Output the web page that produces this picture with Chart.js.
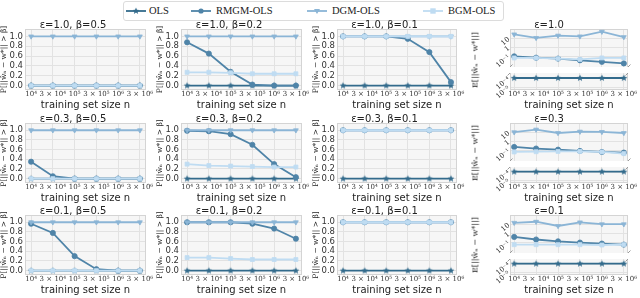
<!DOCTYPE html>
<html>
<head>
<meta charset="utf-8">
<script src="https://cdn.jsdelivr.net/npm/chart.js@4.4.1/dist/chart.umd.min.js"></script>
<style>
  body { margin:0; width:640px; height:298px; background:#fff; position:relative; overflow:hidden; }
  .panel { position:absolute; }
  #legend { position:absolute; left:123px; top:1px; width:379px; height:18px; border:1px solid #dcdcdc; border-radius:3px; background:#fff; }
  .lg { position:absolute; top:0; height:18px; line-height:18px; font-family:'Liberation Serif'; font-size:10.5px; color:#222; white-space:nowrap; }
  .lgc { position:absolute; top:4px; }
  .ylab4 { position:absolute; font-family:'DejaVu Serif'; font-size:8px; color:#222; transform:translate(-50%,-50%) rotate(-90deg); white-space:nowrap; }
</style>
</head>
<body>
<div id="legend"></div>
<script>
// training set sizes (x ticks)
const nLabels = ['10⁴', '3 × 10⁴', '10⁵', '3 × 10⁵', '10⁶', '3 × 10⁶'];
const seriesNames = ['OLS', 'RMGM-OLS', 'DGM-OLS', 'BGM-OLS'];
const epsLabels = ['1.0', '0.3', '0.1'];
const betaLabels = ['0.5', '0.2', '0.1'];

// P[||w_n - w*|| > beta], one array per beta (0.5, 0.2, 0.1)
const olsE10  = [[0,0,0,0,0,0], [0,0,0,0,0,0], [0,0,0,0,0,0]];
const rmgmE10 = [[0,0,0,0,0,0], [0.88,0.65,0.28,0.02,0,0], [1,1,1,0.95,0.68,0.07]];
const dgmE10  = [[1,1,1,1,1,1], [1,1,1,1,1,1], [1,1,1,1,1,1]];
const bgmE10  = [[0,0,0,0,0,0], [0.27,0.27,0.26,0.24,0.24,0.24], [1,1,1,1,1,1]];

const olsE03  = [[0,0,0,0,0,0], [0,0,0,0,0,0], [0,0,0,0,0,0]];
const rmgmE03 = [[0.35,0.05,0,0,0,0], [0.99,0.98,0.92,0.7,0.3,0.03], [1,1,1,1,1,1]];
const dgmE03  = [[1,1,1,1,1,1], [1,1,1,1,1,1], [1,1,1,1,1,1]];
const bgmE03  = [[0,0,0,0,0,0], [0.3,0.27,0.26,0.25,0.24,0.24], [1,1,1,1,1,1]];

const olsE01  = [[0,0,0,0,0,0], [0,0,0,0,0,0], [0,0,0,0,0,0]];
const rmgmE01 = [[0.97,0.78,0.3,0.03,0,0], [1,1,1,0.97,0.87,0.66], [1,1,1,1,1,1]];
const dgmE01  = [[1,1,1,1,1,1], [1,1,1,1,1,1], [1,1,1,1,1,1]];
const bgmE01  = [[0,0,0,0,0,0], [0.27,0.27,0.25,0.23,0.23,0.23], [1,1,1,1,1,1]];

// E[||w_n - w*||], one array per eps (1.0, 0.3, 0.1)
const olsErr  = [[1.1e-4,1.1e-4,1.1e-4,1.1e-4,1.1e-4,1.1e-4], [1.1e-4,1.1e-4,1.1e-4,1.1e-4,1.1e-4,1.1e-4], [1.1e-4,1.1e-4,1.1e-4,1.1e-4,1.1e-4,1.1e-4]];
const rmgmErr = [[0.1,0.071,0.056,0.036,0.024,0.016], [0.24,0.16,0.12,0.085,0.066,0.056], [0.41,0.21,0.13,0.095,0.073,0.056]];
const dgmErr  = [[30,12,22,18,60,15], [11,22,9,13,12,9], [16,21,7,18,11,11]];
const bgmErr  = [[0.066,0.066,0.055,0.045,0.066,0.066], [0.066,0.07,0.075,0.075,0.066,0.043], [0.055,0.055,0.055,0.055,0.05,0.055]];

const probRows = [
  [olsE10, rmgmE10, dgmE10, bgmE10],
  [olsE03, rmgmE03, dgmE03, bgmE03],
  [olsE01, rmgmE01, dgmE01, bgmE01]
];

function starImg(color, r) {
  const c = document.createElement('canvas');
  const s = Math.ceil(r * 2 + 2);
  c.width = c.height = s;
  const g = c.getContext('2d');
  g.fillStyle = color;
  g.beginPath();
  for (let i = 0; i < 10; i++) {
    const a = -Math.PI / 2 + i * Math.PI / 5;
    const rr = i % 2 ? r * 0.45 : r;
    g.lineTo(s / 2 + rr * Math.cos(a), s / 2 + rr * Math.sin(a));
  }
  g.closePath();
  g.fill();
  return c;
}

const colors = ['#336b8c', '#4f84a8', '#8bb5d6', '#bfdcf2'];
const styles = [
  { color: colors[0], point: starImg(colors[0], 3.6), r: 3, rot: 0, order: 4 },
  { color: colors[1], point: 'circle', r: 2.6, rot: 0, order: 3 },
  { color: colors[2], point: 'triangle', r: 2.8, rot: 180, order: 2 },
  { color: colors[3], point: 'rect', r: 2.8, rot: 0, order: 1 }
];

const panelBg = '#f6f6f6';
const gridColor = '#e2e2e2';
const spineColor = '#d4d4d4';

// background + frame around the plot area
const frame = {
  id: 'frame',
  beforeDraw(chart, args, opts) {
    const a = chart.chartArea, ctx = chart.ctx;
    ctx.save();
    ctx.fillStyle = panelBg;
    ctx.fillRect(a.left, a.top, a.right - a.left, a.bottom - a.top);
    ctx.restore();
  },
  beforeDatasetsDraw(chart, args, opts) {
    const a = chart.chartArea, ctx = chart.ctx;
    const sides = opts.sides || 'tblr';
    ctx.save();
    ctx.strokeStyle = spineColor;
    ctx.lineWidth = 1;
    ctx.beginPath();
    if (sides.includes('t')) { ctx.moveTo(a.left, a.top + 0.5); ctx.lineTo(a.right, a.top + 0.5); }
    if (sides.includes('b')) { ctx.moveTo(a.left, a.bottom - 0.5); ctx.lineTo(a.right, a.bottom - 0.5); }
    if (sides.includes('l')) { ctx.moveTo(a.left + 0.5, a.top); ctx.lineTo(a.left + 0.5, a.bottom); }
    if (sides.includes('r')) { ctx.moveTo(a.right - 0.5, a.top); ctx.lineTo(a.right - 0.5, a.bottom); }
    ctx.stroke();
    // diagonal break marks of the split axis
    if (opts.breakAt) {
      const y = opts.breakAt === 'bottom' ? a.bottom : a.top;
      ctx.strokeStyle = '#9a9a9a';
      ctx.beginPath();
      [a.left, a.right].forEach(x => { ctx.moveTo(x - 2.5, y + 2.5); ctx.lineTo(x + 2.5, y - 2.5); });
      ctx.stroke();
    }
    ctx.restore();
  }
};
Chart.register(frame);

function makeCanvas(left, top, w, h) {
  const div = document.createElement('div');
  div.className = 'panel';
  div.style.left = left + 'px';
  div.style.top = top + 'px';
  div.style.width = w + 'px';
  div.style.height = h + 'px';
  const cv = document.createElement('canvas');
  cv.width = w; cv.height = h;
  cv.style.width = w + 'px'; cv.style.height = h + 'px';
  div.appendChild(cv);
  document.body.appendChild(div);
  return cv;
}

function makeDataset(k, vals) {
  const st = styles[k];
  return {
    label: seriesNames[k],
    data: vals.map((v, i) => ({ x: i, y: v })),
    borderColor: st.color,
    backgroundColor: st.color,
    borderWidth: 1.8,
    pointStyle: st.point,
    pointRadius: st.r,
    pointRotation: st.rot,
    pointBorderColor: st.color,
    pointBackgroundColor: st.color,
    pointBorderWidth: 0.8,
    order: st.order
  };
}

const colX = [[25, 146], [181, 302], [337, 457]];
const rowY = [[29, 90], [123, 183], [215, 275]];
const col4X = [510, 628];
const yAxisW = 25, titleH = 9, xAxisH = 21, padR = 14;

// autoPadding off, otherwise point overflow eats into the small split panels
const layoutOpts = { autoPadding: false, padding: { left: 0, right: padR, top: 0, bottom: 0 } };

function xScale(min, max, showLabels) {
  return {
    type: 'linear', min: min, max: max,
    afterBuildTicks: s => { s.ticks = nLabels.map((_, i) => ({ value: i })); },
    ticks: {
      display: showLabels, callback: v => nLabels[v], autoSkip: false, maxRotation: 0, minRotation: 0,
      padding: 0, font: { family: 'DejaVu Serif', size: 7 }, color: '#333'
    },
    grid: { color: gridColor, drawTicks: false },
    border: { display: false },
    title: { display: showLabels, text: 'training set size n', font: { family: 'DejaVu Sans', size: 10 }, color: '#222', padding: 0 },
    afterFit: s => { s.height = showLabels ? xAxisH : 0; }
  };
}

function titleOpts(text) {
  return {
    display: true, text: text, color: '#222',
    font: { family: 'DejaVu Sans', size: 10, lineHeight: 1, weight: 'normal' },
    padding: { top: 0, bottom: -1 }
  };
}

// probability panels
for (let r = 0; r < 3; r++) {
  for (let c = 0; c < 3; c++) {
    const [x0, x1] = colX[c], [y0, y1] = rowY[r];
    const left = x0 - yAxisW, top = y0 - titleH;
    const cv = makeCanvas(left, top, x1 - left + padR, y1 + xAxisH - top);
    const datasets = probRows[r].map((series, k) => makeDataset(k, series[c]));
    new Chart(cv, {
      type: 'line',
      data: { datasets: datasets },
      options: {
        responsive: false, animation: false, events: [],
        layout: layoutOpts,
        plugins: {
          legend: { display: false }, tooltip: { enabled: false },
          title: titleOpts('ε=' + epsLabels[r] + ', β=' + betaLabels[c]),
          frame: {}
        },
        scales: {
          x: xScale(-0.28, 5.28, true),
          y: {
            min: -0.09, max: 1.15,
            afterBuildTicks: s => { s.ticks = [0, 0.2, 0.4, 0.6, 0.8, 1.0].map(v => ({ value: v })); },
            ticks: { callback: v => v.toFixed(1), autoSkip: false, padding: 2, font: { family: 'DejaVu Sans', size: 8.5 }, color: '#333' },
            grid: { color: gridColor, drawTicks: false },
            border: { display: false },
            title: { display: true, text: 'P[||ŵₙ − w*|| > β]', font: { family: 'DejaVu Serif', size: 7.5 }, color: '#222', padding: 0 },
            afterFit: s => { s.width = yAxisW; s.paddingTop = 0; s.paddingBottom = 0; }
          }
        }
      }
    });
  }
}

// expected error panels (split log axis)
const errTicksTop = [0.1, 1, 10];
const errTicksBottom = [1e-5, 1e-4];
const errTickText = ['10⁻⁵', '10⁻⁴', '10⁻³', '10⁻²', '10⁻¹', '1', '10'];
const errSeries = [olsErr, rmgmErr, dgmErr, bgmErr];
const y4AxisW = 40, topPartH = 38, gapH = 6;

function logY(min, max, ticks) {
  return {
    type: 'logarithmic', min: min, max: max,
    afterBuildTicks: s => { s.ticks = ticks.map(v => ({ value: v })); },
    ticks: {
      callback: v => errTickText[Math.round(Math.log10(v)) + 5],
      autoSkip: false, padding: 1, minRotation: 40, maxRotation: 40,
      font: { family: 'DejaVu Serif', size: 7 }, color: '#222'
    },
    grid: { color: gridColor, drawTicks: false },
    border: { display: false },
    // keep the rotated labels from shrinking the small plot areas
    afterFit: s => { s.width = y4AxisW; s.paddingTop = 0; s.paddingBottom = 0; }
  };
}

for (let r = 0; r < 3; r++) {
  const [y0, y1] = rowY[r];
  const [x0, x1] = col4X;
  const left = x0 - y4AxisW;
  const w = x1 - left + padR;

  // upper part: the mechanisms
  const cvTop = makeCanvas(left, y0 - titleH, w, titleH + topPartH);
  new Chart(cvTop, {
    type: 'line',
    data: { datasets: [1, 2, 3].map(k => makeDataset(k, errSeries[k][r])) },
    options: {
      responsive: false, animation: false, events: [],
      layout: layoutOpts,
      plugins: {
        legend: { display: false }, tooltip: { enabled: false },
        title: titleOpts('ε=' + epsLabels[r]),
        frame: { sides: 'tlr', breakAt: 'bottom' }
      },
      scales: { x: xScale(-0.19, 5.19, false), y: logY(Math.pow(10, -2.2), Math.pow(10, 2.08), errTicksTop) }
    }
  });

  // lower part: OLS
  const bTop = y0 + topPartH + gapH;
  const cvBot = makeCanvas(left, bTop, w, y1 - bTop + xAxisH);
  new Chart(cvBot, {
    type: 'line',
    data: { datasets: [makeDataset(0, errSeries[0][r])] },
    options: {
      responsive: false, animation: false, events: [],
      layout: layoutOpts,
      plugins: {
        legend: { display: false }, tooltip: { enabled: false },
        frame: { sides: 'blr', breakAt: 'top' }
      },
      scales: { x: xScale(-0.19, 5.19, true), y: logY(Math.pow(10, -5.27), Math.pow(10, -3.41), errTicksBottom) }
    }
  });

  const lab = document.createElement('div');
  lab.className = 'ylab4';
  lab.textContent = 'E[||ŵₙ − w*||]';
  lab.style.left = '475px';
  lab.style.top = ((y0 + y1) / 2) + 'px';
  document.body.appendChild(lab);
}

// legend
const legend = document.getElementById('legend');
const handleX = [2, 67, 183, 299];
const textX = [25, 92, 208, 324];
seriesNames.forEach((name, k) => {
  const st = styles[k];
  const c = document.createElement('canvas');
  c.width = 20; c.height = 10;
  c.className = 'lgc';
  c.style.left = handleX[k] + 'px';
  const g = c.getContext('2d');
  g.strokeStyle = st.color; g.fillStyle = st.color; g.lineWidth = 1.8;
  g.beginPath(); g.moveTo(0, 5); g.lineTo(20, 5); g.stroke();
  if (k === 0) g.drawImage(st.point, 10 - st.point.width / 2, 5 - st.point.height / 2);
  else if (k === 1) { g.beginPath(); g.arc(10, 5, 2.6, 0, Math.PI * 2); g.fill(); }
  else if (k === 2) { g.beginPath(); g.moveTo(7, 3); g.lineTo(13, 3); g.lineTo(10, 8); g.closePath(); g.fill(); }
  else { g.fillRect(7.3, 2.3, 5.4, 5.4); }
  legend.appendChild(c);
  const t = document.createElement('div');
  t.className = 'lg';
  t.style.left = textX[k] + 'px';
  t.textContent = name;
  legend.appendChild(t);
});
</script>
</body>
</html>
